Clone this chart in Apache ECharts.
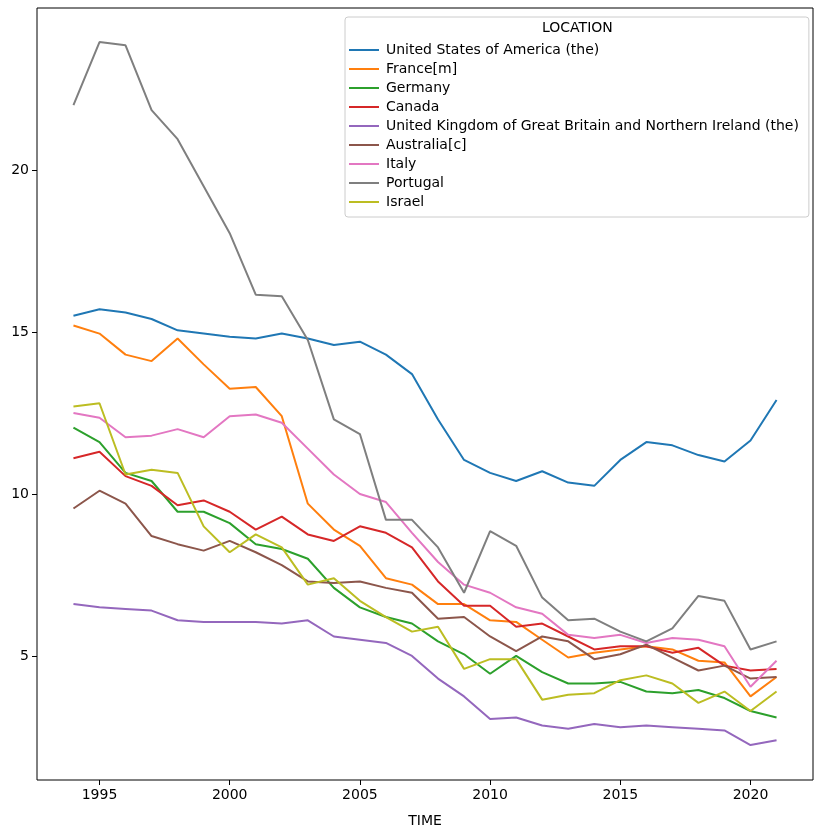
<!DOCTYPE html>
<html><head><meta charset="utf-8">
<script src="https://cdn.jsdelivr.net/npm/echarts@6/dist/echarts.min.js"></script>
<style>html,body{margin:0;padding:0;background:#fff}#c{width:822px;height:833px}</style>
</head><body><div id="c"></div>
<script>
var years = [];
for (var y = 1994; y <= 2021; y++) years.push(y);

var names = ['United States of America (the)', 'France[m]', 'Germany', 'Canada',
  'United Kingdom of Great Britain and Northern Ireland (the)', 'Australia[c]', 'Italy', 'Portugal', 'Israel'];
var colors = ['#1f77b4', '#ff7f0e', '#2ca02c', '#d62728', '#9467bd', '#8c564b', '#e377c2', '#7f7f7f', '#bcbd22'];

var usa = [15.5,15.7,15.6,15.4,15.05,14.95,14.85,14.8,14.95,14.8,14.6,14.7,14.3,13.7,12.3,11.05,10.65,10.4,10.7,10.35,10.25,11.05,11.6,11.5,11.2,11.0,11.65,12.9];
var france = [15.2,14.95,14.3,14.1,14.8,14.0,13.25,13.3,12.4,9.7,8.9,8.4,7.4,7.2,6.6,6.6,6.1,6.05,5.5,4.95,5.1,5.2,5.3,5.2,4.85,4.8,3.75,4.35];
var germany = [12.05,11.6,10.65,10.4,9.45,9.45,9.1,8.45,8.3,8.0,7.1,6.5,6.2,6.0,5.45,5.05,4.45,5.0,4.5,4.15,4.15,4.2,3.9,3.85,3.95,3.7,3.3,3.1];
var canada = [11.1,11.3,10.55,10.25,9.65,9.8,9.45,8.9,9.3,8.75,8.55,9.0,8.8,8.35,7.3,6.55,6.55,5.9,6.0,5.6,5.2,5.3,5.3,5.1,5.25,4.7,4.55,4.6];
var uk = [6.6,6.5,6.45,6.4,6.1,6.05,6.05,6.05,6.0,6.1,5.6,5.5,5.4,5.0,4.3,3.75,3.05,3.1,2.85,2.75,2.9,2.8,2.85,2.8,2.75,2.7,2.25,2.4];
var australia = [9.55,10.1,9.7,8.7,8.45,8.25,8.55,8.2,7.8,7.3,7.25,7.3,7.1,6.95,6.15,6.2,5.6,5.15,5.6,5.45,4.9,5.05,5.35,4.95,4.55,4.7,4.3,4.35];
var italy = [12.5,12.35,11.75,11.8,12.0,11.75,12.4,12.45,12.2,11.4,10.6,10.0,9.75,8.8,7.9,7.2,6.95,6.5,6.3,5.65,5.55,5.65,5.4,5.55,5.5,5.3,4.05,4.85];
var portugal = [22.0,23.95,23.85,21.85,20.95,19.5,18.05,16.15,16.1,14.75,12.3,11.85,9.2,9.2,8.35,6.95,8.85,8.4,6.8,6.1,6.15,5.75,5.45,5.85,6.85,6.7,5.2,5.45];
var israel = [12.7,12.8,10.6,10.75,10.65,9.0,8.2,8.75,8.35,7.2,7.4,6.7,6.2,5.75,5.9,4.6,4.9,4.9,3.65,3.8,3.85,4.25,4.4,4.15,3.55,3.9,3.3,3.9];
var values = [usa, france, germany, canada, uk, australia, italy, portugal, israel];

var xTicks = [1995, 2000, 2005, 2010, 2015, 2020];
var yTicks = [5, 10, 15, 20];

var font = 'DejaVu Sans';
var chart = echarts.init(document.getElementById('c'));
chart.setOption({
  animation: false,
  textStyle: { fontFamily: font },
  grid: { left: 37, right: 9, top: 8, bottom: 53, show: true, borderColor: '#000', borderWidth: 1 },
  xAxis: {
    type: 'value', min: 1992.6, max: 2022.4,
    name: 'TIME', nameLocation: 'middle', nameGap: 34,
    nameTextStyle: { color: '#000', fontSize: 14, fontFamily: font },
    axisLine: { show: false },
    axisTick: { show: true, customValues: xTicks, length: 5, lineStyle: { color: '#000' } },
    axisLabel: { customValues: xTicks, color: '#000', fontSize: 14, fontFamily: font, margin: 8,
      formatter: function (v) { return String(v); } },
    splitLine: { show: false }
  },
  yAxis: {
    type: 'value', min: 1.17, max: 25,
    axisLine: { show: false },
    axisTick: { show: true, customValues: yTicks, length: 5, lineStyle: { color: '#000' } },
    axisLabel: { customValues: yTicks, color: '#000', fontSize: 14, fontFamily: font, margin: 8 },
    splitLine: { show: false }
  },
  legend: {
    orient: 'vertical', left: 345, top: 17,
    padding: [26, 10, 8, 4],
    borderColor: '#ccc', borderWidth: 1, borderRadius: 3,
    backgroundColor: 'rgba(255,255,255,0.85)',
    icon: 'rect', itemWidth: 30, itemHeight: 2, itemGap: 5,
    textStyle: { color: '#000', fontSize: 14, fontFamily: font, padding: [0, 0, 0, 2] },
    data: names
  },
  graphic: [{
    type: 'text', left: 542, top: 21, z: 100, zlevel: 1,
    style: { text: 'LOCATION', fill: '#000', font: '14px "DejaVu Sans"' }
  }],
  series: names.map(function (n, i) {
    return {
      name: n, type: 'line', showSymbol: false, color: colors[i],
      lineStyle: { width: 2, color: colors[i] },
      data: years.map(function (yr, j) { return [yr, values[i][j]]; })
    };
  })
});
</script></body></html>
